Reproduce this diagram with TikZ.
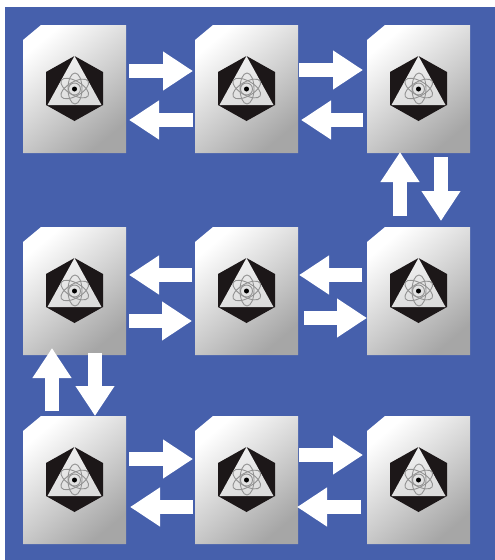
\documentclass[tikz,border=0pt]{standalone}
\usetikzlibrary{arrows.meta,calc}
\definecolor{bgblue}{HTML}{4660AC}
\definecolor{cardmid}{HTML}{D6D6D6}
\definecolor{cardend}{HTML}{A6A6A6}
\definecolor{icondark}{HTML}{1C1718}
\definecolor{atomline}{HTML}{929292}
\tikzset{
  x=1pt,y=-1pt,
  card/.style={rectangle,minimum width=103pt,minimum height=128pt,inner sep=0pt,outer sep=0pt},
  cardfill/.style={top color=white,middle color=cardmid,bottom color=cardend,shading angle=40},
  blockarrow/.style={draw=white,line width=14pt,
    -{Triangle[width=37pt,length=30pt,fill=white]}},
  hexa/.style={fill=icondark},
  tri/.style={top color=black!6,bottom color=black!14,shading angle=20},
  orbit/.style={draw=atomline,line width=0.9pt},
  nucleus/.style={fill=black,circle,inner sep=0pt,minimum size=5pt},
  pics/atomicon/.style={code={
    \fill[hexa] (0,-32.5)--(28.5,-16.5)--(28.5,16.5)--(0,32.5)--(-28.5,16.5)--(-28.5,-16.5)--cycle;
    \shade[tri] (0,-32.5)--(27,16.5)--(-27,16.5)--cycle;
    \foreach \a in {30,90,150}{
      \draw[orbit,rotate=\a] (0,0.5) ellipse [x radius=15.5,y radius=7];
    }
    \draw[orbit] (0,0.5) circle (6);
    \node[nucleus] (-nuc) at (0,0.5) {};
  }}
}
\begin{document}
\begin{tikzpicture}
\useasboundingbox (0,0) rectangle (495,560);
\fill[white] (0,0) rectangle (495,560);
\fill[bgblue] (5,7) rectangle (495,560);
% cards
\foreach \n/\cx/\cy in {a/74.5/89,b/246.5/89,c/418.5/89,
                        d/74.5/291,e/246.5/291,f/418.5/291,
                        g/74.5/480,h/246.5/480,i/418.5/480}{
  \node[card] (\n) at (\cx,\cy) {};
  \shade[cardfill] ($(\n.north west)+(18,0)$) -- (\n.north east) -- (\n.south east)
    -- (\n.south west) -- ($(\n.north west)+(0,15)$) -- cycle;
  \pic (icon\n) at (\cx,\cy-0.5) {atomicon};
}
% free ends of the connectors
\foreach \n/\x/\y in {
  a1/129/71,a2/193/71,b1/193/120,b2/129/120,
  c1/299/70,c2/363/70,d1/363/120,d2/301/120,
  e1/400/216,e2/400/152,f1/441/157,f2/441/221,
  g1/192/275,g2/129/275,h1/129/321,h2/192/321,
  i1/362/275,i2/299/275,j1/304/318,j2/367/318,
  k1/52/411,k2/52/348,l1/95/353,l2/95/416,
  m1/129/459,m2/193/459,n1/193/507,n2/130/507,
  o1/299/455,o2/363/455,p1/361/507,p2/297/507}{
  \coordinate (\n) at (\x,\y);
}
\foreach \s/\t in {a1/a2,b1/b2,c1/c2,d1/d2,e1/e2,f1/f2,g1/g2,h1/h2,i1/i2,j1/j2,k1/k2,l1/l2,m1/m2,n1/n2,o1/o2,p1/p2}{
  \draw[blockarrow] (\s) -- (\t);
}
\end{tikzpicture}
\end{document}
